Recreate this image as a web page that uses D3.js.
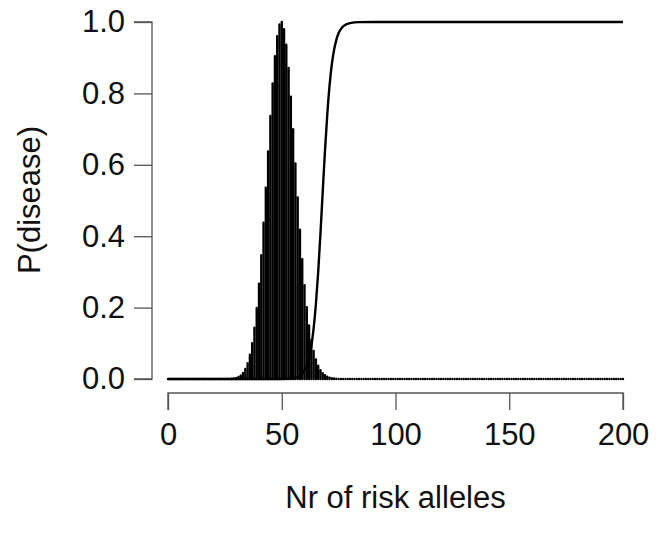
<!DOCTYPE html>
<html>
<head>
<meta charset="utf-8">
<script src="https://cdn.jsdelivr.net/npm/d3@7/dist/d3.min.js"></script>
<style>
  html, body { margin: 0; padding: 0; background: #fff; }
  svg { display: block; }
  text { font-family: "Liberation Sans", Arial, sans-serif; fill: #111; }
</style>
</head>
<body>
<svg id="chart" width="659" height="535"></svg>
<script>
// Allele-count distribution (bars); zero elsewhere on 0..200
const barStart = 26;
const barValues = [
  0.0002, 0.0004, 0.0008, 0.0016, 0.0031, 0.0058, 0.0101, 0.0172, 0.0281, 0.0445,
  0.068, 0.1004, 0.1436, 0.1988, 0.2667, 0.3469, 0.4377, 0.5361, 0.6376, 0.7368,
  0.8276, 0.9039, 0.9603, 0.993, 1.0, 0.980, 0.9364, 0.8716, 0.7909, 0.6998,
  0.604, 0.5086, 0.418, 0.3354, 0.2627, 0.201, 0.1502, 0.1097, 0.0783, 0.0546,
  0.0372, 0.0248, 0.0162, 0.0103, 0.0064, 0.0039, 0.0023, 0.0014, 0.0008, 0.0004
];
// Risk curve (P(disease) vs number of risk alleles)
const curveX = [0, 40, 50, 55, 58, 60, 61, 62, 63, 64, 65, 66, 67, 68, 69, 70, 71, 72, 73, 74, 75, 76, 77, 78, 80, 84, 90, 200];
const curveY = [0, 0, 0.0002, 0.0022, 0.0093, 0.0239, 0.0378, 0.0595, 0.0921, 0.141, 0.209, 0.298, 0.406, 0.524, 0.639, 0.74, 0.821, 0.881, 0.922, 0.95, 0.969, 0.98, 0.9876, 0.9923, 0.997, 0.9996, 1, 1];
const xTicks = [0, 50, 100, 150, 200];
const yTicks = [0, 0.2, 0.4, 0.6, 0.8, 1.0];
const xLabel = "Nr of risk alleles";
const yLabel = "P(disease)";

const allX = d3.range(0, 201);
const bars = allX.map(k => {
  const i = k - barStart;
  return { x: k, y: (i >= 0 && i < barValues.length) ? barValues[i] : 0 };
});

const svg = d3.select("#chart");
const x = d3.scaleLinear().domain([0, 200]).range([168, 623]);
const y = d3.scaleLinear().domain([0, 1]).range([379, 22]);

// bars (type = "h")
svg.append("g").selectAll("line").data(bars).join("line")
  .attr("x1", d => x(d.x)).attr("x2", d => x(d.x))
  .attr("y1", y(0)).attr("y2", d => y(d.y))
  .attr("stroke", "#000").attr("stroke-width", 2.4).attr("stroke-linecap", "round");

// curve
const pts = curveX.map((v, i) => [v, curveY[i]]);
svg.append("path").datum(pts)
  .attr("fill", "none").attr("stroke", "#000").attr("stroke-width", 2.4)
  .attr("d", d3.line().x(d => x(d[0])).y(d => y(d[1])).curve(d3.curveMonotoneX));

// axes
const xAxis = d3.axisBottom(x).tickValues(xTicks).tickSize(17).tickPadding(13).tickFormat(d3.format("d"));
const gx = svg.append("g").attr("transform", "translate(0,393)").call(xAxis);
const yAxis = d3.axisLeft(y).tickValues(yTicks).tickSize(18).tickPadding(9).tickFormat(d3.format(".1f"));
const gy = svg.append("g").attr("transform", "translate(152,0)").call(yAxis);
[gx, gy].forEach(g => {
  g.selectAll("path.domain").attr("stroke", "#555").attr("stroke-width", 1.3);
  g.selectAll(".tick line").attr("stroke", "#555").attr("stroke-width", 1.3);
  g.selectAll(".tick text").style("font-size", "31px").attr("fill", "#111")
    .style("font-family", '"Liberation Sans", Arial, sans-serif');
});
gx.select("path.domain").attr("d", `M${x(0)},17V0H${x(200)}V17`);
gy.select("path.domain").attr("d", `M-18,${y(0)}H0V${y(1)}H-18`);

svg.append("text").attr("x", x(100)).attr("y", 508).attr("text-anchor", "middle")
  .style("font-size", "31px").text(xLabel);
svg.append("text").attr("transform", `translate(40,200) rotate(-90)`).attr("text-anchor", "middle")
  .style("font-size", "31px").text(yLabel);
</script>
</body>
</html>
